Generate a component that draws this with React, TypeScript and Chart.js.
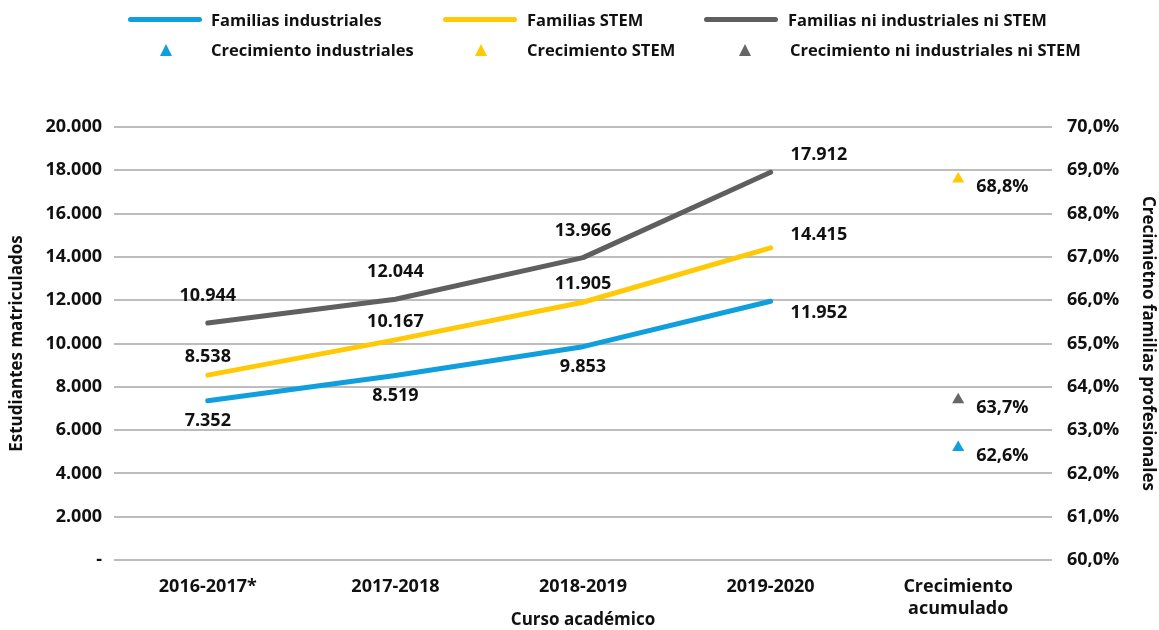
import React, { useEffect, useRef } from 'react';
import { Chart, registerables } from 'chart.js';

Chart.register(...registerables);

// ---- Data ----
const categories: (string | string[])[] = ['2016-2017*', '2017-2018', '2018-2019', '2019-2020', ['Crecimiento', 'acumulado']];
const industriales = [7352, 8519, 9853, 11952, null];
const stem = [8538, 10167, 11905, 14415, null];
const otros = [10944, 12044, 13966, 17912, null];
const crecimientoIndustriales = [null, null, null, null, 62.6];
const crecimientoStem = [null, null, null, null, 68.8];
const crecimientoOtros = [null, null, null, null, 63.7];

const seriesNames = ['Familias industriales', 'Familias STEM', 'Familias ni industriales ni STEM'];
const growthNames = ['Crecimiento industriales', 'Crecimiento STEM', 'Crecimiento ni industriales ni STEM'];

// ---- Styles ----
const BLUE = '#0f9fdc';
const YELLOW = '#ffc905';
const GRAY = '#5f5f5f';
const GRAY_TRI = '#666666';
const TEXT = '#111111';
const FONT = '"Open Sans", sans-serif';

const fmtThousands = (v: number) => (v === 0 ? '-' : String(Math.round(v)).replace(/\B(?=(\d{3})+(?!\d))/g, '.'));
const fmtPct = (v: number) => v.toFixed(1).replace('.', ',') + '%';

const valueLabels = {
  id: 'valueLabels',
  afterDatasetsDraw(chart: any) {
    const ctx = chart.ctx;
    ctx.save();
    ctx.font = `bold 18px ${FONT}`;
    ctx.fillStyle = TEXT;
    ctx.textBaseline = 'middle';
    chart.data.datasets.forEach((ds: any, i: number) => {
      const meta = chart.getDatasetMeta(i);
      const cfg = ds.labelCfg;
      if (!cfg) return;
      const n = ds.data.length;
      let lastIdx = -1;
      for (let k = n - 1; k >= 0; k--) if (ds.data[k] != null) { lastIdx = k; break; }
      meta.data.forEach((pt: any, j: number) => {
        const v = ds.data[j];
        if (v == null) return;
        const text = cfg.pct ? fmtPct(v) : fmtThousands(v);
        if (j === lastIdx && cfg.end) {
          ctx.textAlign = 'left';
          ctx.fillText(text, pt.x + cfg.end[0], pt.y + cfg.end[1]);
        } else {
          ctx.textAlign = 'center';
          ctx.fillText(text, pt.x, pt.y + cfg.dy);
        }
      });
    });
    ctx.restore();
  },
};

function LegendLine({ color }: { color: string }) {
  return <div style={{ width: 74, height: 5, borderRadius: 3, background: color }} />;
}

function LegendTri({ color }: { color: string }) {
  return (
    <div
      style={{
        width: 0,
        height: 0,
        borderLeft: '6.5px solid transparent',
        borderRight: '6.5px solid transparent',
        borderBottom: `12px solid ${color}`,
      }}
    />
  );
}

export default function App() {
  const canvasRef = useRef<HTMLCanvasElement | null>(null);

  useEffect(() => {
    if (!canvasRef.current) return;
    const tickFont = { family: FONT, size: 18, weight: 'bold' as const };
    const titleFont = { family: FONT, size: 17, weight: 'bold' as const };
    const chart = new Chart(canvasRef.current, {
      type: 'line',
      data: {
        labels: categories as any,
        datasets: [
          {
            label: seriesNames[0], data: industriales, borderColor: BLUE, backgroundColor: BLUE,
            borderWidth: 5, pointRadius: 0, borderCapStyle: 'round', borderJoinStyle: 'round', yAxisID: 'y',
            labelCfg: { dy: 20, end: [20, 12] },
          } as any,
          {
            label: seriesNames[1], data: stem, borderColor: YELLOW, backgroundColor: YELLOW,
            borderWidth: 5, pointRadius: 0, borderCapStyle: 'round', borderJoinStyle: 'round', yAxisID: 'y',
            labelCfg: { dy: -18, end: [20, -13] },
          } as any,
          {
            label: seriesNames[2], data: otros, borderColor: GRAY, backgroundColor: GRAY,
            borderWidth: 5, pointRadius: 0, borderCapStyle: 'round', borderJoinStyle: 'round', yAxisID: 'y',
            labelCfg: { dy: -27, end: [20, -17] },
          } as any,
          {
            label: growthNames[0], data: crecimientoIndustriales, showLine: false, pointStyle: 'triangle',
            pointRadius: 7, pointBackgroundColor: BLUE, pointBorderWidth: 0, borderColor: BLUE, yAxisID: 'yR',
            labelCfg: { pct: true, end: [18, 8] },
          } as any,
          {
            label: growthNames[1], data: crecimientoStem, showLine: false, pointStyle: 'triangle',
            pointRadius: 7, pointBackgroundColor: YELLOW, pointBorderWidth: 0, borderColor: YELLOW, yAxisID: 'yR',
            labelCfg: { pct: true, end: [18, 8] },
          } as any,
          {
            label: growthNames[2], data: crecimientoOtros, showLine: false, pointStyle: 'triangle',
            pointRadius: 7, pointBackgroundColor: GRAY_TRI, pointBorderWidth: 0, borderColor: GRAY_TRI, yAxisID: 'yR',
            labelCfg: { pct: true, end: [18, 8] },
          } as any,
        ],
      },
      options: {
        responsive: false,
        animation: false,
        events: [],
        layout: { padding: { top: 127, left: 0, right: 0, bottom: 0 } },
        plugins: { legend: { display: false }, tooltip: { enabled: false } },
        scales: {
          x: {
            offset: true,
            grid: { display: false, offset: true },
            border: { display: false },
            ticks: { font: tickFont, color: TEXT, padding: 8, maxRotation: 0, autoSkip: false },
            title: { display: true, text: 'Curso académico', font: titleFont, color: TEXT, padding: { top: 0, bottom: 0 } },
            afterFit(s: any) { s.height = 70; },
          },
          y: {
            position: 'left',
            min: 0,
            max: 20000,
            ticks: { stepSize: 2000, font: tickFont, color: TEXT, padding: 12, callback: (v: any) => fmtThousands(Number(v)) },
            grid: { color: '#bdbdbd', lineWidth: 2, drawTicks: false },
            border: { display: false },
            title: { display: true, text: 'Estudiantes matriculados', font: titleFont, color: TEXT, padding: { top: 7, bottom: 0 } },
            afterFit(s: any) { s.width = 114; },
          },
          yR: {
            position: 'right',
            min: 60,
            max: 70,
            ticks: { stepSize: 1, font: tickFont, color: TEXT, padding: 15, callback: (v: any) => fmtPct(Number(v)) },
            grid: { display: false, drawTicks: false },
            border: { display: false },
            title: { display: true, text: 'Crecimietno familias profesionales', font: titleFont, color: TEXT, padding: { top: 1, bottom: 0 } },
            afterFit(s: any) { s.width = 107; },
          },
        },
      } as any,
      plugins: [valueLabels],
    });
    return () => chart.destroy();
  }, []);

  const textStyle: React.CSSProperties = {
    position: 'absolute',
    fontFamily: FONT,
    fontWeight: 700,
    fontSize: 16.5,
    color: TEXT,
    lineHeight: '20px',
    whiteSpace: 'nowrap',
  };

  const legendCols = [
    { lineX: 128, triX: 160, textX: 211, textX2: 211, color: BLUE, tri: BLUE },
    { lineX: 443, triX: 475, textX: 527, textX2: 527, color: YELLOW, tri: YELLOW },
    { lineX: 704, triX: 739, textX: 788, textX2: 790, color: GRAY, tri: GRAY_TRI },
  ];

  return (
    <div style={{ position: 'absolute', left: 0, top: 0, width: 1159, height: 630, background: '#fff' }}>
      <canvas ref={canvasRef} width={1159} height={630} style={{ display: 'block' }} />
      {legendCols.map((c, i) => (
        <React.Fragment key={i}>
          <div style={{ position: 'absolute', left: c.lineX, top: 17 }}>
            <LegendLine color={c.color} />
          </div>
          <div style={{ ...textStyle, left: c.textX, top: 10 }}>{seriesNames[i]}</div>
          <div style={{ position: 'absolute', left: c.triX, top: 44 }}>
            <LegendTri color={c.tri} />
          </div>
          <div style={{ ...textStyle, left: c.textX2, top: 40 }}>{growthNames[i]}</div>
        </React.Fragment>
      ))}
    </div>
  );
}
